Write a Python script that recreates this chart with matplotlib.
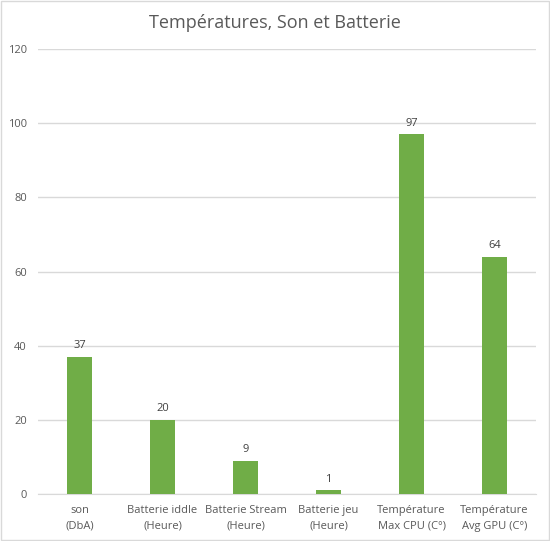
import matplotlib.pyplot as plt
import numpy as np

categories = ["son\n(DbA)", "Batterie iddle\n(Heure)", "Batterie Stream\n(Heure)",
              "Batterie jeu\n(Heure)", "Température\nMax CPU (C°)", "Température\nAvg GPU (C°)"]
values = [37, 20, 9, 1, 97, 64]
yticks = [0, 20, 40, 60, 80, 100, 120]

txt = "#595959"
plt.rcParams['font.family'] = ['Open Sans', 'DejaVu Sans']

fig = plt.figure(figsize=(5.5, 5.41), dpi=100)
ax = fig.add_axes([38 / 550, 47 / 541, 498 / 550, 445 / 541])

x = np.arange(len(values))
bars = ax.bar(x, values, width=0.31, color="#70AD47", zorder=3)
for b, v in zip(bars, values):
    ax.annotate(str(v), (b.get_x() + b.get_width() / 2, v), xytext=(0, 4),
                textcoords="offset points", ha="center", va="bottom",
                fontsize=8, color="#404040")

ax.set_xlim(-0.5, len(values) - 0.5)
ax.set_ylim(0, 120)
ax.set_yticks(yticks)
ax.set_xticks(x)
ax.set_xticklabels(categories, fontsize=8, color=txt, linespacing=1.6)
ax.tick_params(axis="y", labelsize=8, labelcolor=txt, length=0, pad=8)
ax.tick_params(axis="x", length=0, pad=8)
ax.grid(axis="y", color="#D9D9D9", linewidth=1, zorder=0)
for s in ["top", "right", "left"]:
    ax.spines[s].set_visible(False)
ax.spines["bottom"].set_color("#D9D9D9")

fig.text(0.5, 1 - 23 / 541, "Températures, Son et Batterie", ha="center", va="center",
         fontsize=13, color=txt)

fig.patches.append(plt.Rectangle((0.001, 0.001), 0.997, 0.997, transform=fig.transFigure,
                                 fill=False, edgecolor="#D9D9D9", linewidth=1))

fig.savefig("out.png", dpi=100)
